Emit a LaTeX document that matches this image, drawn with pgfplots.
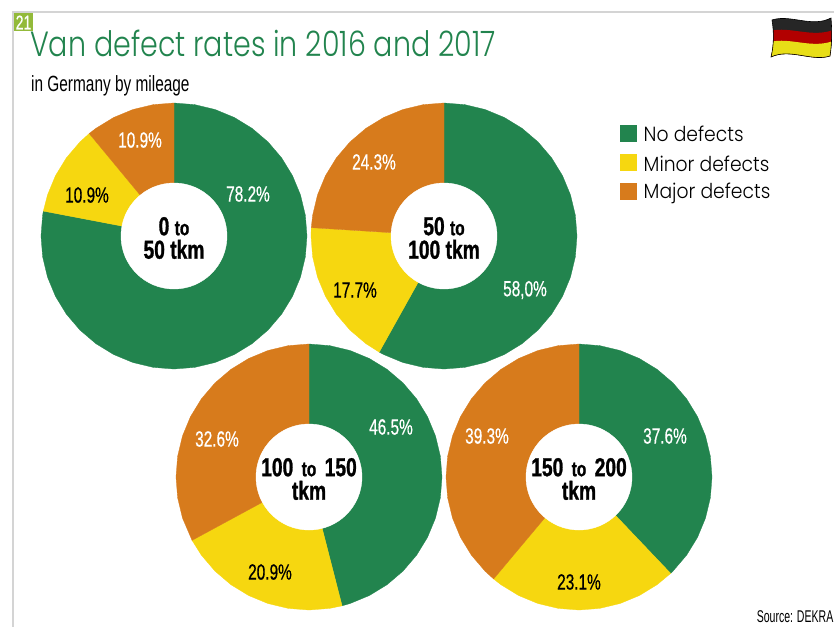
\documentclass[border=0pt]{standalone}
\usepackage{fontspec}
\usepackage{pgfplots}
\usepgfplotslibrary{polar}
\pgfplotsset{compat=1.18}
\setmainfont[FakeStretch=0.915]{Poppins Light}
\newfontfamily\titlef[FakeStretch=0.815]{Poppins Light}
\newfontfamily\subf[FakeStretch=0.70]{Liberation Sans}
\newfontfamily\srcf[FakeStretch=0.62]{Liberation Sans}
\newfontfamily\condf[FakeStretch=0.70,FakeBold=0.5]{Liberation Sans}
\newfontfamily\condc[FakeStretch=0.74,FakeBold=1]{Liberation Sans Bold}
\definecolor{cgreen}{HTML}{22844E}
\definecolor{cyellow}{HTML}{F6D710}
\definecolor{corange}{HTML}{D77B1C}
\definecolor{cframe}{HTML}{D4D4D4}
\definecolor{ctag}{HTML}{93BA3A}
\definecolor{ctitle}{HTML}{22844E}
\pgfplotsset{
  donut/.style={
    at={(#1)}, anchor=center,
    width=266pt, height=266pt, scale only axis,
    hide axis, clip=false, ymin=0, ymax=1,
    x filter/.code={\pgfmathparse{90-3.6*##1}\pgfmathresult},
  },
  wedge/.style={fill=#1, draw=#1, line width=0.3pt, mark=none, forget plot},
  hole/.style={only marks, color=white, mark=*, mark size=53pt, mark options={fill=white, draw=white}, forget plot},
}
\tikzset{
  pctw/.style={text=white, font=\condf\fontsize{22}{24}\selectfont, inner sep=0pt},
  pctb/.style={text=black, font=\condf\fontsize{22}{24}\selectfont, inner sep=0pt},
  ctr/.style={text=black, align=center, font=\condc\fontsize{26}{23.5}\selectfont, inner sep=0pt},
  leg/.style={anchor=west, inner sep=0pt, font=\fontsize{20.5}{24}\selectfont},
}
\newcommand{\tosmall}{{\fontsize{21}{23.5}\selectfont to}}
\begin{document}
\begin{tikzpicture}[x=1pt,y=1pt]
\clip (0,0) rectangle (834,-627);
\path[use as bounding box] (0,0) rectangle (834,-627);

% Slice boundaries are cumulative percent as measured on the drawn rings.
% 0 to 50 tkm (printed 78.2 / 10.9 / 10.9)
\begin{polaraxis}[donut={174pt,-236pt}]
\addplot[wedge=cgreen] coordinates {(0,0)(0,1)(2.5,1)(5,1)(7.5,1)(10,1)(12.5,1)(15,1)(17.5,1)(20,1)(22.5,1)(25,1)(27.5,1)(30,1)(32.5,1)(35,1)(37.5,1)(40,1)(42.5,1)(45,1)(47.5,1)(50,1)(52.5,1)(55,1)(57.5,1)(60,1)(62.5,1)(65,1)(67.5,1)(70,1)(72.5,1)(75,1)(77.5,1)(78.0,1)(78.0,0)} -- cycle;
\addplot[wedge=cyellow] coordinates {(78.0,0)(78.0,1)(80,1)(82.5,1)(85,1)(87.5,1)(89.0,1)(89.0,0)} -- cycle;
\addplot[wedge=corange] coordinates {(89.0,0)(89.0,1)(90,1)(92.5,1)(95,1)(97.5,1)(100,1)(100,0)} -- cycle;
\addplot[hole] coordinates {(0,0)};
\end{polaraxis}

% 50 to 100 tkm (printed 58.0 / 17.7 / 24.3)
\begin{polaraxis}[donut={444pt,-236pt}]
\addplot[wedge=cgreen] coordinates {(0,0)(0,1)(2.5,1)(5,1)(7.5,1)(10,1)(12.5,1)(15,1)(17.5,1)(20,1)(22.5,1)(25,1)(27.5,1)(30,1)(32.5,1)(35,1)(37.5,1)(40,1)(42.5,1)(45,1)(47.5,1)(50,1)(52.5,1)(55,1)(57.5,1)(58.1,1)(58.1,0)} -- cycle;
\addplot[wedge=cyellow] coordinates {(58.1,0)(58.1,1)(60,1)(62.5,1)(65,1)(67.5,1)(70,1)(72.5,1)(75,1)(76.0,1)(76.0,0)} -- cycle;
\addplot[wedge=corange] coordinates {(76.0,0)(76.0,1)(77.5,1)(80,1)(82.5,1)(85,1)(87.5,1)(90,1)(92.5,1)(95,1)(97.5,1)(100,1)(100,0)} -- cycle;
\addplot[hole] coordinates {(0,0)};
\end{polaraxis}

% 100 to 150 tkm (printed 46.5 / 20.9 / 32.6)
\begin{polaraxis}[donut={309pt,-477pt}]
\addplot[wedge=cgreen] coordinates {(0,0)(0,1)(2.5,1)(5,1)(7.5,1)(10,1)(12.5,1)(15,1)(17.5,1)(20,1)(22.5,1)(25,1)(27.5,1)(30,1)(32.5,1)(35,1)(37.5,1)(40,1)(42.5,1)(45,1)(46.0,1)(46.0,0)} -- cycle;
\addplot[wedge=cyellow] coordinates {(46.0,0)(46.0,1)(47.5,1)(50,1)(52.5,1)(55,1)(57.5,1)(60,1)(62.5,1)(65,1)(67.1,1)(67.1,0)} -- cycle;
\addplot[wedge=corange] coordinates {(67.1,0)(67.1,1)(70,1)(72.5,1)(75,1)(77.5,1)(80,1)(82.5,1)(85,1)(87.5,1)(90,1)(92.5,1)(95,1)(97.5,1)(100,1)(100,0)} -- cycle;
\addplot[hole] coordinates {(0,0)};
\end{polaraxis}

% 150 to 200 tkm (printed 37.6 / 23.1 / 39.3)
\begin{polaraxis}[donut={579pt,-477pt}]
\addplot[wedge=cgreen] coordinates {(0,0)(0,1)(2.5,1)(5,1)(7.5,1)(10,1)(12.5,1)(15,1)(17.5,1)(20,1)(22.5,1)(25,1)(27.5,1)(30,1)(32.5,1)(35,1)(37.5,1)(37.9,1)(37.9,0)} -- cycle;
\addplot[wedge=cyellow] coordinates {(37.9,0)(37.9,1)(40,1)(42.5,1)(45,1)(47.5,1)(50,1)(52.5,1)(55,1)(57.5,1)(60,1)(61.1,1)(61.1,0)} -- cycle;
\addplot[wedge=corange] coordinates {(61.1,0)(61.1,1)(62.5,1)(65,1)(67.5,1)(70,1)(72.5,1)(75,1)(77.5,1)(80,1)(82.5,1)(85,1)(87.5,1)(90,1)(92.5,1)(95,1)(97.5,1)(100,1)(100,0)} -- cycle;
\addplot[hole] coordinates {(0,0)};
\end{polaraxis}

% frame
\fill[cframe] (12,-10.5) rectangle (834,-13);
\fill[cframe] (11.5,-10.5) rectangle (14,-627);
\fill[ctag] (14,-13) rectangle (33,-31);
\node[text=white, font=\condf\fontsize{20}{20}\selectfont, inner sep=0pt] at (23.5,-22.5) {21};
\node[anchor=base west, inner sep=0pt, text=ctitle, font=\titlef\fontsize{35}{38}\selectfont] at (30,-56.5) {Van defect rates in 2016 and 2017};
\node[anchor=base west, inner sep=0pt, font=\subf\fontsize{22}{24}\selectfont] at (31,-91) {in Germany by mileage};
\node[anchor=base east, inner sep=0pt, font=\srcf\fontsize{17}{20}\selectfont] at (833.5,-622.5) {Source: DEKRA};

% legend
\fill[cgreen] (620,-125) rectangle (637,-142);
\fill[cyellow] (620,-154) rectangle (637,-171);
\fill[corange] (620,-183) rectangle (637,-200);
\node[leg] at (643.5,-134) {No defects};
\node[leg] at (643.5,-164) {Minor defects};
\node[leg] at (643.5,-193) {Major defects};

% flag
\begin{scope}
\clip (772,-20) .. controls (790,-14) and (812,-28) .. (831,-18) .. controls (832,-30) and (832,-44) .. (830,-56) .. controls (812,-62) and (790,-48) .. (771,-57) .. controls (774,-45) and (774,-32) .. (772,-20) -- cycle;
\fill[black!85] (765,-10) rectangle (835,-70);
\fill[red!70!black] (770,-31) .. controls (790,-26) and (812,-38) .. (833,-30) -- (833,-60) -- (770,-60) -- cycle;
\fill[yellow!90!black] (770,-42) .. controls (790,-37) and (812,-49) .. (833,-41) -- (833,-65) -- (770,-65) -- cycle;
\end{scope}
\draw[black, line width=0.6pt] (772,-20) .. controls (790,-14) and (812,-28) .. (831,-18) .. controls (832,-30) and (832,-44) .. (830,-56) .. controls (812,-62) and (790,-48) .. (771,-57) .. controls (774,-45) and (774,-32) .. (772,-20) -- cycle;

% slice labels
\node[pctw] at (248,-194) {78.2\%};
\node[pctb] at (87,-195) {10.9\%};
\node[pctw] at (140,-140) {10.9\%};
\node[pctw] at (525,-290) {58,0\%};
\node[pctb] at (355,-290) {17.7\%};
\node[pctw] at (374,-162) {24.3\%};
\node[pctw] at (391,-427) {46.5\%};
\node[pctb] at (270,-572) {20.9\%};
\node[pctw] at (217,-439) {32.6\%};
\node[pctw] at (665,-436) {37.6\%};
\node[pctb] at (579,-582) {23.1\%};
\node[pctw] at (487,-436) {39.3\%};

% centre labels
\node[ctr] at (174,-238) {0 \tosmall\\50 tkm};
\node[ctr] at (444,-238) {50 \tosmall\\100 tkm};
\node[ctr] at (309,-479) {100\kern3pt{} \tosmall{}\kern3pt{} 150\\tkm};
\node[ctr] at (579,-479) {150\kern3pt{} \tosmall{}\kern3pt{} 200\\tkm};
\end{tikzpicture}
\end{document}
